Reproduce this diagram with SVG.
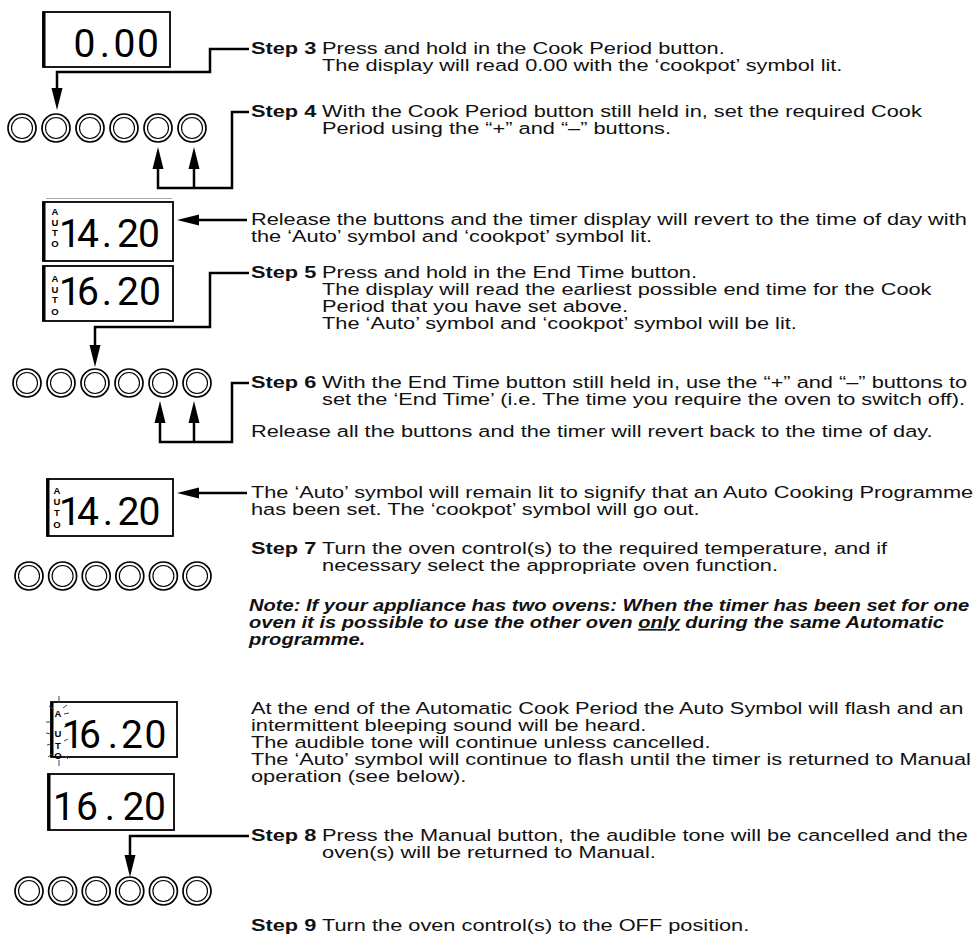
<svg xmlns="http://www.w3.org/2000/svg" width="980" height="951" viewBox="0 0 980 951">
<style>
.lcd{fill:#fff;stroke:#000;stroke-width:1.8}
.lcdl{stroke:#000;stroke-width:3}
.dg{font-family:Roboto,"Liberation Sans",sans-serif;font-size:39px;fill:#000;text-anchor:middle}
.au{font-family:"Liberation Sans",Arial,sans-serif;font-size:9.5px;font-weight:bold;fill:#000;text-anchor:middle}
.bo{fill:#fff;stroke:#000;stroke-width:1.7}
.bi{fill:none;stroke:#000;stroke-width:1.1}
.cn{fill:none;stroke:#000;stroke-width:2.5}
.t{font-family:"Liberation Sans",Arial,sans-serif;font-size:17px;fill:#111}
.b{font-weight:bold}
.n{font-weight:bold;font-style:italic;font-size:17px}
.ray{stroke:#444;stroke-width:1}
</style>
<defs>
<marker id="ah" markerUnits="userSpaceOnUse" markerWidth="22" markerHeight="12" refX="6" refY="6" orient="auto">
<path d="M0,0.5 L22,6 L0,11.5 Z" fill="#000"/>
</marker>
<g id="btn"><circle class="bo" r="14"/><circle class="bi" r="10.5"/></g>
</defs>

<g id="display1">
<rect class="lcd" x="43" y="12" width="127" height="55"/>
<line class="lcdl" x1="44" y1="12" x2="44" y2="67"/>
<text class="dg" x="84.5 105 124.5 148" y="57">0.00</text>
</g>

<g id="buttons1">
<use href="#btn" x="22" y="128"/><use href="#btn" x="56" y="128"/><use href="#btn" x="90" y="128"/><use href="#btn" x="124" y="128"/><use href="#btn" x="158" y="128"/><use href="#btn" x="192" y="128"/>
</g>

<line x1="46" y1="198.5" x2="172" y2="198.5" stroke="#aaa" stroke-width="1"/>

<g id="display2">
<rect class="lcd" x="43" y="202" width="130" height="59"/>
<line class="lcdl" x1="44" y1="202" x2="44" y2="261"/>
<text class="au"><tspan x="55" y="215">A</tspan><tspan x="55" y="226">U</tspan><tspan x="55" y="236">T</tspan><tspan x="55" y="247">O</tspan></text>
<text class="dg" x="70 88 107 128 149" y="247">14.20</text>
</g>

<g id="display3">
<rect class="lcd" x="43" y="266" width="130" height="55"/>
<line class="lcdl" x1="44" y1="266" x2="44" y2="321"/>
<text class="au"><tspan x="55" y="282">A</tspan><tspan x="55" y="293">U</tspan><tspan x="55" y="303">T</tspan><tspan x="55" y="315">O</tspan></text>
<text class="dg" x="70 88 107 128 150" y="305">16.20</text>
</g>

<g id="buttons2">
<use href="#btn" x="27" y="383"/><use href="#btn" x="61" y="383"/><use href="#btn" x="95" y="383"/><use href="#btn" x="129" y="383"/><use href="#btn" x="163" y="383"/><use href="#btn" x="197" y="383"/>
</g>

<g id="display4">
<rect class="lcd" x="47" y="479" width="126" height="57"/>
<line class="lcdl" x1="48" y1="479" x2="48" y2="536"/>
<text class="au"><tspan x="57" y="494">A</tspan><tspan x="57" y="505">U</tspan><tspan x="57" y="516">T</tspan><tspan x="57" y="528">O</tspan></text>
<text class="dg" x="70 88 108 128.5 149.5" y="525">14.20</text>
</g>

<g id="buttons3">
<use href="#btn" x="29" y="576"/><use href="#btn" x="62.6" y="576"/><use href="#btn" x="96.2" y="576"/><use href="#btn" x="129.8" y="576"/><use href="#btn" x="163.4" y="576"/><use href="#btn" x="197" y="576"/>
</g>

<g id="display5">
<rect class="lcd" x="51" y="702" width="126" height="55"/>
<line class="lcdl" x1="52" y1="702" x2="52" y2="757"/>
<g class="ray">
<line x1="59" y1="696" x2="59" y2="703"/>
<line x1="49" y1="706" x2="53" y2="709"/>
<line x1="63" y1="708" x2="67" y2="705"/>
<line x1="64" y1="714" x2="69" y2="713"/>
<line x1="46" y1="722" x2="51" y2="722"/>
<line x1="64" y1="727" x2="68" y2="726"/>
<line x1="46" y1="733" x2="51" y2="734"/>
<line x1="64" y1="741" x2="68" y2="739"/>
<line x1="47" y1="745" x2="51" y2="744"/>
<line x1="48" y1="757" x2="52" y2="754"/>
<line x1="65" y1="756" x2="68" y2="759"/>
<line x1="59" y1="760" x2="59" y2="766"/>
</g>
<text class="au"><tspan x="58" y="717">A</tspan><tspan x="58" y="737">U</tspan><tspan x="58" y="749">T</tspan><tspan x="58" y="759">O</tspan></text>
<text class="dg" x="73 90 113 132 155.5" y="748">16.20</text>
</g>

<g id="display6">
<rect class="lcd" x="48" y="774" width="126" height="56"/>
<line class="lcdl" x1="49" y1="774" x2="49" y2="830"/>
<text class="dg" x="64 87 110 133.5 155" y="820">16.20</text>
</g>

<g id="buttons4">
<use href="#btn" x="29" y="891"/><use href="#btn" x="62.6" y="891"/><use href="#btn" x="96.2" y="891"/><use href="#btn" x="129.8" y="891"/><use href="#btn" x="163.4" y="891"/><use href="#btn" x="197" y="891"/>
</g>

<g id="connectors">
<path class="cn" marker-end="url(#ah)" d="M249,49 H210 V72 H57 V94"/>
<path class="cn" marker-end="url(#ah)" d="M249,112 H232 V188 H158 V163"/>
<path class="cn" marker-end="url(#ah)" d="M194,188 V163"/>
<path class="cn" marker-end="url(#ah)" d="M247,220 H193"/>
<path class="cn" marker-end="url(#ah)" d="M249,273 H210 V327 H95 V351"/>
<path class="cn" marker-end="url(#ah)" d="M249,383 H232 V442 H160 V417"/>
<path class="cn" marker-end="url(#ah)" d="M194,442 V417"/>
<path class="cn" marker-end="url(#ah)" d="M247,493 H193"/>
<path class="cn" marker-end="url(#ah)" d="M249,836 H130 V861"/>
</g>

<g class="t" transform="scale(1.281,1)">
<g id="step3"><text>
<tspan class="b" x="195.9" y="54">Step 3</tspan>
<tspan x="251.4" y="54">Press and hold in the Cook Period button.</tspan>
<tspan x="251.4" y="71">The display will read 0.00 with the ‘cookpot’ symbol lit.</tspan>
</text></g>
<g id="step4"><text>
<tspan class="b" x="195.9" y="117">Step 4</tspan>
<tspan x="251.4" y="117">With the Cook Period button still held in, set the required Cook</tspan>
<tspan x="251.4" y="134">Period using the “+” and “–” buttons.</tspan>
</text></g>
<g id="release1"><text>
<tspan x="195.9" y="225">Release the buttons and the timer display will revert to the time of day with</tspan>
<tspan x="195.9" y="242">the ‘Auto’ symbol and ‘cookpot’ symbol lit.</tspan>
</text></g>
<g id="step5"><text>
<tspan class="b" x="195.9" y="278">Step 5</tspan>
<tspan x="251.4" y="278">Press and hold in the End Time button.</tspan>
<tspan x="251.4" y="295">The display will read the earliest possible end time for the Cook</tspan>
<tspan x="251.4" y="312">Period that you have set above.</tspan>
<tspan x="251.4" y="329">The ‘Auto’ symbol and ‘cookpot’ symbol will be lit.</tspan>
</text></g>
<g id="step6"><text>
<tspan class="b" x="195.9" y="388">Step 6</tspan>
<tspan x="251.4" y="388">With the End Time button still held in, use the “+” and “–” buttons to</tspan>
<tspan x="251.4" y="405">set the ‘End Time’ (i.e. The time you require the oven to switch off).</tspan>
</text></g>
<g id="release2"><text>
<tspan x="195.9" y="437">Release all the buttons and the timer will revert back to the time of day.</tspan>
</text></g>
<g id="autolit"><text>
<tspan x="195.9" y="498">The ‘Auto’ symbol will remain lit to signify that an Auto Cooking Programme</tspan>
<tspan x="195.9" y="515">has been set. The ‘cookpot’ symbol will go out.</tspan>
</text></g>
<g id="step7"><text>
<tspan class="b" x="195.9" y="554">Step 7</tspan>
<tspan x="251.4" y="554">Turn the oven control(s) to the required temperature, and if</tspan>
<tspan x="251.4" y="571">necessary select the appropriate oven function.</tspan>
</text></g>
<g id="end"><text>
<tspan x="195.9" y="714">At the end of the Automatic Cook Period the Auto Symbol will flash and an</tspan>
<tspan x="195.9" y="731">intermittent bleeping sound will be heard.</tspan>
<tspan x="195.9" y="748">The audible tone will continue unless cancelled.</tspan>
<tspan x="195.9" y="765">The ‘Auto’ symbol will continue to flash until the timer is returned to Manual</tspan>
<tspan x="195.9" y="782">operation (see below).</tspan>
</text></g>
<g id="step8"><text>
<tspan class="b" x="195.9" y="841">Step 8</tspan>
<tspan x="251.4" y="841">Press the Manual button, the audible tone will be cancelled and the</tspan>
<tspan x="251.4" y="858">oven(s) will be returned to Manual.</tspan>
</text></g>
<g id="step9"><text>
<tspan class="b" x="195.9" y="931">Step 9</tspan>
<tspan x="251.4" y="931">Turn the oven control(s) to the OFF position.</tspan>
</text></g>
</g>
<g id="note" class="t" transform="scale(1.185,1)">
<text class="n">
<tspan x="210.1" y="611">Note: If your appliance has two ovens: When the timer has been set for one</tspan>
<tspan x="210.1" y="628">oven it is possible to use the other oven <tspan text-decoration="underline">only</tspan> during the same Automatic</tspan>
<tspan x="210.1" y="645">programme.</tspan>
</text>
</g>
</svg>
